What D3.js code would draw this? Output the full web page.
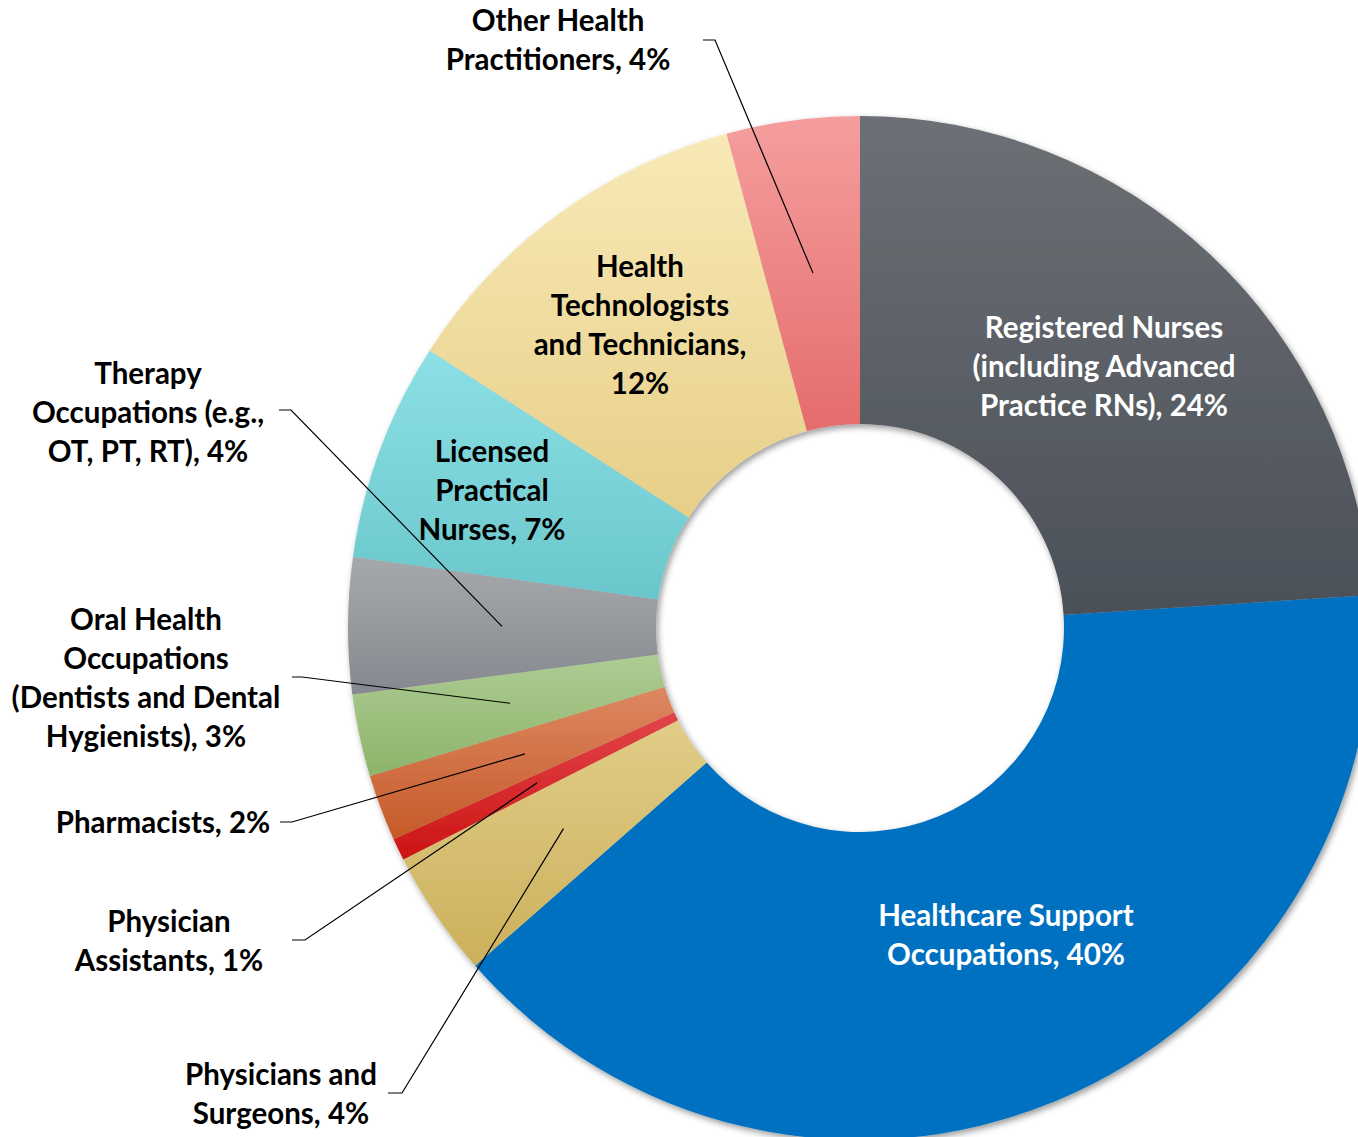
<!DOCTYPE html>
<html>
<head>
<meta charset="utf-8">
<script src="https://cdn.jsdelivr.net/npm/d3@7"></script>
<style>
  html, body { margin: 0; padding: 0; background: #fff; overflow: hidden; }
  #chart { width: 1358px; height: 1137px; }
  text { font-family: Lato, "Open Sans", sans-serif; font-weight: 700; }
</style>
</head>
<body>
<div id="chart"></div>
<script>
;(function () {

    // slices, clockwise from 12 o'clock
    var categories = [
        'Registered Nurses (including Advanced Practice RNs)',
        'Healthcare Support Occupations',
        'Physicians and Surgeons',
        'Physician Assistants',
        'Pharmacists',
        'Oral Health Occupations (Dentists and Dental Hygienists)',
        'Therapy Occupations (e.g., OT, PT, RT)',
        'Licensed Practical Nurses',
        'Health Technologists and Technicians',
        'Other Health Practitioners'
    ];
    var shares = [24.0, 39.6, 4.0, 0.7, 2.1, 2.6, 4.3, 6.9, 11.7, 4.2];
    var labelLines = [
        ['Registered Nurses', '(including Advanced', 'Practice RNs), 24%'],
        ['Healthcare Support', 'Occupations, 40%'],
        ['Physicians and', 'Surgeons, 4%'],
        ['Physician', 'Assistants, 1%'],
        ['Pharmacists, 2%'],
        ['Oral Health', 'Occupations', '(Dentists and Dental', 'Hygienists), 3%'],
        ['Therapy', 'Occupations (e.g.,', 'OT, PT, RT), 4%'],
        ['Licensed', 'Practical', 'Nurses, 7%'],
        ['Health', 'Technologists', 'and Technicians,', '12%'],
        ['Other Health', 'Practitioners, 4%']
    ];

    // top / bottom gradient stops for each slice
    var colors = [
        ['#6c7075', '#4b5058'],
        ['#0070c0', '#0070c0'],
        ['#e1cd88', '#ccb05c'],
        ['#e2454a', '#cc1414'],
        ['#dd8862', '#c65a28'],
        ['#afcc94', '#8db46a'],
        ['#a6a9ac', '#85888e'],
        ['#8ce0e6', '#6ac7cb'],
        ['#f8e9b7', '#e7cf88'],
        ['#f59e9e', '#e56c6c']
    ];

    // label layout: centre x, first line y, leader start (null = label inside slice)
    var labelLayout = [
        { x: 1104, y: 328, fill: '#fff', lead: null },
        { x: 1006, y: 916, fill: '#fff', lead: null },
        { x: 281, y: 1075, fill: '#000', lead: [388, 1093, 402] },
        { x: 169, y: 922, fill: '#000', lead: [292, 940, 305] },
        { x: 163, y: 823, fill: '#000', lead: [280, 822, 292] },
        { x: 146, y: 620, fill: '#000', lead: [292, 677, 302] },
        { x: 148, y: 374, fill: '#000', lead: [279, 410, 291] },
        { x: 492, y: 452, fill: '#000', lead: null },
        { x: 640, y: 267, fill: '#000', lead: null },
        { x: 558, y: 21, fill: '#000', lead: [703, 40, 715] }
    ];

    var width = 1358, height = 1137;
    var cx = 860, cy = 628, outerR = 512, innerR = 204;
    var lineH = 39;

    var svg = d3.select('#chart').append('svg')
        .attr('width', width)
        .attr('height', height);

    var defs = svg.append('defs');

    var shadow = defs.append('filter')
        .attr('id', 'shadow')
        .attr('x', '-10%').attr('y', '-10%')
        .attr('width', '120%').attr('height', '120%');
    shadow.append('feDropShadow')
        .attr('dx', 2).attr('dy', 3)
        .attr('stdDeviation', 3)
        .attr('flood-color', '#000')
        .attr('flood-opacity', 0.4);

    colors.forEach(function (c, i) {
        var g = defs.append('linearGradient')
            .attr('id', 'grad' + i)
            .attr('x1', 0).attr('y1', 0)
            .attr('x2', 0).attr('y2', 1);
        g.append('stop').attr('offset', '0%').attr('stop-color', c[0]);
        g.append('stop').attr('offset', '100%').attr('stop-color', c[1]);
    });

    var data = categories.map(function (name, i) {
        return { name: name, value: shares[i], index: i };
    });

    var pie = d3.pie()
        .sort(null)
        .value(function (d) { return d.value; });

    var arc = d3.arc()
        .innerRadius(innerR)
        .outerRadius(outerR);

    var arcs = pie(data);

    var ring = svg.append('g')
        .attr('transform', 'translate(' + cx + ',' + cy + ')')
        .attr('filter', 'url(#shadow)');

    ring.selectAll('path')
        .data(arcs)
        .enter()
        .append('path')
        .attr('d', arc)
        .attr('fill', function (d) { return 'url(#grad' + d.data.index + ')'; });

    // leader lines from label to slice centroid
    var leaders = svg.append('g');
    arcs.forEach(function (a, i) {
        var lay = labelLayout[i];
        if (!lay.lead) return;
        var c = arc.centroid(a);
        var pts = [
            [lay.lead[0], lay.lead[1]],
            [lay.lead[2], lay.lead[1]],
            [cx + c[0], cy + c[1]]
        ];
        leaders.append('path')
            .attr('d', d3.line()(pts))
            .attr('fill', 'none')
            .attr('stroke', '#000')
            .attr('stroke-width', 1.2);
    });

    var labels = svg.append('g');
    labelLines.forEach(function (lines, i) {
        var lay = labelLayout[i];
        var t = labels.append('text')
            .attr('text-anchor', 'middle')
            .attr('fill', lay.fill)
            .style('font-size', '29.5px');
        lines.forEach(function (s, j) {
            t.append('tspan')
                .attr('x', lay.x)
                .attr('y', lay.y + j * lineH)
                .attr('dy', '0.35em')
                .text(s);
        });
    });

})();
</script>
</body>
</html>
